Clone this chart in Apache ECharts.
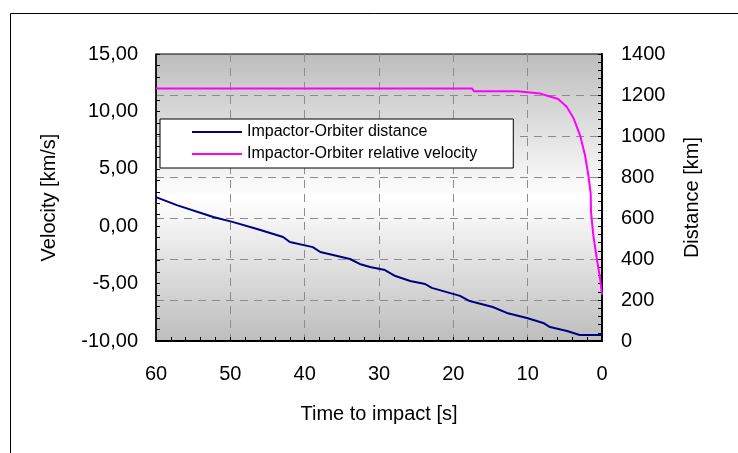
<!DOCTYPE html>
<html>
<head>
<meta charset="utf-8">
<title>Impactor-Orbiter</title>
<script src="https://cdn.jsdelivr.net/npm/echarts@6/dist/echarts.min.js"></script>
<style>
  html, body { margin: 0; padding: 0; background: #fff; }
  #main { width: 738px; height: 453px; }
</style>
</head>
<body>
<div id="main"></div>
<script>
// distance curve (right axis, km)
const distTime = [60, 57.2, 52.3, 49.6, 46.4, 42.9, 42.0, 38.9, 37.9, 33.9, 32.6, 31.2, 29.2, 27.8, 25.8, 23.8, 22.9, 19.1, 17.8, 14.7, 12.8, 10.1, 7.9, 7.0, 4.7, 3.0, 0];
const distKm = [702, 663, 605, 580, 546, 507, 483, 458, 434, 400, 376, 361, 346, 317, 293, 278, 259, 220, 195, 166, 137, 112, 88, 68, 49, 29, 29];

// relative velocity curve (left axis, km/s)
const velTime = [60, 17.5, 17.2, 11.4, 11.2, 8.3, 7.7, 5.9, 4.75, 3.86, 2.96, 2.29, 1.84, 1.52, 1.48, 1.17, 0.71, 0.27, 0];
const velKms = [12.0, 12.0, 11.75, 11.75, 11.6, 11.55, 11.43, 11.08, 10.41, 9.45, 7.94, 6.2, 4.46, 2.87, 1.26, -0.77, -2.77, -4.51, -5.95];

const seriesNames = ["Impactor-Orbiter distance", "Impactor-Orbiter relative velocity"];

const FONT = "Liberation Sans";
const gridDash = { color: "#8c8c8c", type: [8, 6], width: 1 };

const chart = echarts.init(document.getElementById("main"), null, { renderer: "canvas" });

const option = {
  animation: false,
  textStyle: { fontFamily: FONT, color: "#000" },
  graphic: [
    {
      type: "rect",
      shape: { x: 10.5, y: 13.5, width: 760, height: 480 },
      style: { fill: "none", stroke: "#000", lineWidth: 1 },
      silent: true,
    },
  ],
  grid: {
    left: 156,
    right: 136,
    top: 54,
    bottom: 112,
    show: true,
    borderColor: "#000",
    borderWidth: 1,
    backgroundColor: new echarts.graphic.LinearGradient(0, 0, 0, 1, [
      { offset: 0, color: "#bdbdbd" },
      { offset: 0.5, color: "#ffffff" },
      { offset: 1, color: "#bdbdbd" },
    ]),
  },
  legend: {
    orient: "vertical",
    left: 160,
    top: 119,
    padding: [5, 36, 6, 32],
    itemGap: 6,
    icon: "rect",
    itemWidth: 50,
    itemHeight: 2,
    backgroundColor: "#fff",
    borderColor: "#000",
    borderWidth: 1,
    textStyle: { fontFamily: FONT, fontSize: 16, color: "#000" },
    data: seriesNames,
  },
  xAxis: {
    type: "value",
    inverse: true,
    min: 0,
    max: 60,
    interval: 10,
    name: "Time to impact [s]",
    nameLocation: "middle",
    nameGap: 63,
    nameTextStyle: { fontFamily: FONT, fontSize: 20, color: "#000" },
    axisLine: { onZero: false, lineStyle: { color: "#000", width: 2 } },
    axisTick: { inside: true, length: 4, lineStyle: { color: "#000" } },
    minorTick: { show: true, splitNumber: 5, length: 4, lineStyle: { color: "#000" } },
    axisLabel: { fontFamily: FONT, fontSize: 20, color: "#000", margin: 23 },
    splitLine: { show: true, showMinLine: false, showMaxLine: false, lineStyle: gridDash },
  },
  yAxis: [
    {
      type: "value",
      position: "left",
      min: -10,
      max: 15,
      interval: 5,
      name: "Velocity [km/s]",
      nameLocation: "middle",
      nameGap: 97,
      nameTextStyle: { fontFamily: FONT, fontSize: 20, color: "#000" },
      axisLine: { show: true, onZero: false, lineStyle: { color: "#000", width: 1.5 } },
      axisTick: { show: true, inside: true, length: 4, lineStyle: { color: "#000" } },
      minorTick: { show: true, splitNumber: 5, length: 4, lineStyle: { color: "#000" } },
      axisLabel: {
        fontFamily: FONT,
        fontSize: 20,
        color: "#000",
        margin: 18,
        formatter: (v) => v.toFixed(2).replace(".", ","),
      },
      splitLine: { show: false },
    },
    {
      type: "value",
      position: "right",
      min: 0,
      max: 1400,
      interval: 200,
      name: "Distance [km]",
      nameLocation: "middle",
      nameGap: 80,
      nameTextStyle: { fontFamily: FONT, fontSize: 20, color: "#000" },
      axisLine: { show: true, onZero: false, lineStyle: { color: "#000", width: 2 } },
      axisTick: { show: true, inside: true, length: 4, lineStyle: { color: "#000" } },
      minorTick: { show: true, splitNumber: 5, length: 4, lineStyle: { color: "#000" } },
      axisLabel: {
        fontFamily: FONT,
        fontSize: 20,
        color: "#000",
        margin: 19,
        formatter: (v) => String(v),
      },
      splitLine: { show: true, showMinLine: false, showMaxLine: false, lineStyle: gridDash },
    },
  ],
  series: [
    {
      name: seriesNames[0],
      type: "line",
      yAxisIndex: 1,
      symbol: "none",
      color: "#000080",
      lineStyle: { color: "#000080", width: 2 },
      data: distTime.map((t, i) => [t, distKm[i]]),
    },
    {
      name: seriesNames[1],
      type: "line",
      yAxisIndex: 0,
      symbol: "none",
      color: "#ff00ff",
      lineStyle: { color: "#ff00ff", width: 2 },
      data: velTime.map((t, i) => [t, velKms[i]]),
    },
  ],
};

chart.setOption(option);
</script>
</body>
</html>
